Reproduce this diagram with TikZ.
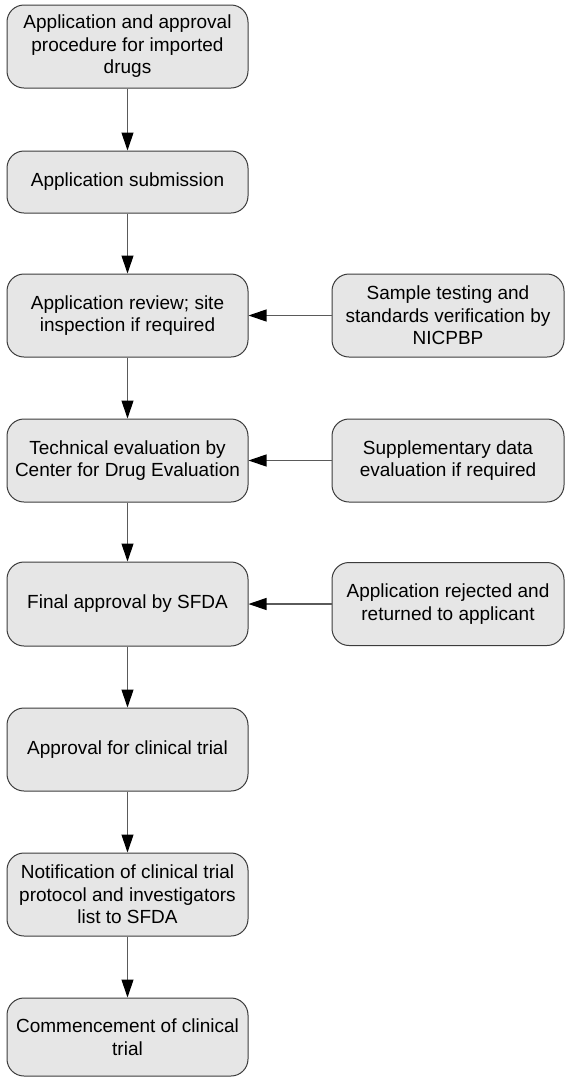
\documentclass[tikz,border=0pt]{standalone}
\usepackage{fontspec}
\setmainfont{Liberation Sans}
\usetikzlibrary{arrows.meta}
\definecolor{boxfill}{HTML}{E6E6E6}
\definecolor{boxline}{HTML}{3C3C3C}
\definecolor{linkline}{HTML}{5A5A5A}
\begin{document}
\begin{tikzpicture}[x=1pt,y=-1pt,
  stepbox/.style={draw=boxline, fill=boxfill, line width=1pt, rounded corners=17pt,
    minimum width=241pt, inner sep=0pt, align=center,
    font=\fontsize{19}{22.5}\selectfont},
  sidebox/.style={stepbox, minimum width=232pt, minimum height=83pt},
  link/.style={draw=linkline, line width=1.1pt,
    -{Triangle[length=18pt,width=12pt,fill=black,color=black]}}]
\useasboundingbox (0,0) rectangle (567,1077);

% main column
\node[stepbox, minimum height=83pt] (s1) at (127.5,46.5) {Application and approval\\procedure for imported\\drugs};
\node[stepbox, minimum height=62pt] (s2) at (127.5,182) {Application submission};
\node[stepbox, minimum height=83pt] (s3) at (127.5,315.5) {Application review; site\\inspection if required};
\node[stepbox, minimum height=83pt] (s4) at (127.5,460.5) {Technical evaluation by\\Center for Drug Evaluation};
\node[stepbox, minimum height=84pt] (s5) at (127.5,604) {Final approval by SFDA};
\node[stepbox, minimum height=83pt] (s6) at (127.5,749.5) {Approval for clinical trial};
\node[stepbox, minimum height=83pt] (s7) at (127.5,894.5) {Notification of clinical trial\\protocol and investigators\\list to SFDA};
\node[stepbox, minimum height=78pt] (s8) at (127.5,1037) {Commencement of clinical\\trial};

% side inputs
\node[sidebox] (r3) at (448,315.5) {Sample testing and\\standards verification by\\NICPBP};
\node[sidebox] (r4) at (448,460.5) {Supplementary data\\evaluation if required};
\node[sidebox] (r5) at (448,604) {Application rejected and\\returned to applicant};

% connectors
\draw[link] (s1) -- (s2);
\draw[link] (s2) -- (s3);
\draw[link] (s3) -- (s4);
\draw[link] (s4) -- (s5);
\draw[link] (s5) -- (s6);
\draw[link] (s6) -- (s7);
\draw[link] (s7) -- (s8);
\draw[link] (r3) -- (s3);
\draw[link] (r4) -- (s4);
\draw[link] (r5) -- (s5);
\end{tikzpicture}
\end{document}
